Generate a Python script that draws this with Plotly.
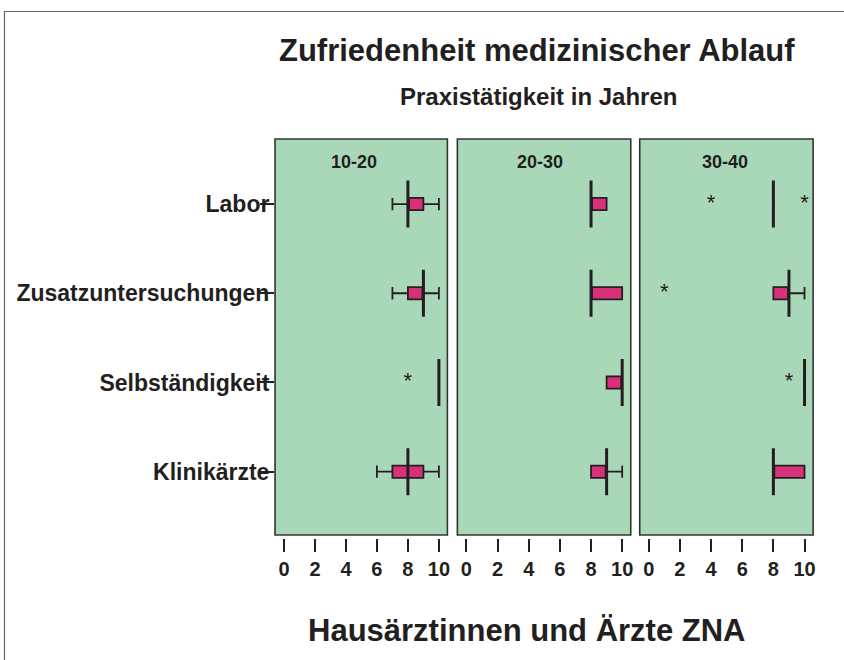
import plotly.graph_objects as go

categories = ["Labor", "Zusatzuntersuchungen", "Selbständigkeit", "Klinikärzte"]
groups = ["10-20", "20-30", "30-40"]
x_ticks = [0, 2, 4, 6, 8, 10]

lower_10_20 = [7, 7, 10, 6]
q1_10_20 = [8, 8, 10, 7]
median_10_20 = [8, 9, 10, 8]
q3_10_20 = [9, 9, 10, 9]
upper_10_20 = [10, 10, 10, 10]

lower_20_30 = [8, 8, 9, 8]
q1_20_30 = [8, 8, 9, 8]
median_20_30 = [8, 8, 10, 9]
q3_20_30 = [9, 10, 10, 9]
upper_20_30 = [9, 10, 10, 10]

lower_30_40 = [8, 8, 10, 8]
q1_30_40 = [8, 8, 10, 8]
median_30_40 = [8, 9, 10, 8]
q3_30_40 = [8, 9, 10, 10]
upper_30_40 = [8, 10, 10, 10]

outlier_10_20_x = [8]
outlier_10_20_cat = ["Selbständigkeit"]
outlier_20_30_x = []
outlier_20_30_cat = []
outlier_30_40_x = [4, 10, 1, 9]
outlier_30_40_cat = ["Labor", "Labor", "Zusatzuntersuchungen", "Selbständigkeit"]

stats = [
    (lower_10_20, q1_10_20, median_10_20, q3_10_20, upper_10_20, outlier_10_20_x, outlier_10_20_cat),
    (lower_20_30, q1_20_30, median_20_30, q3_20_30, upper_20_30, outlier_20_30_x, outlier_20_30_cat),
    (lower_30_40, q1_30_40, median_30_40, q3_30_40, upper_30_40, outlier_30_40_x, outlier_30_40_cat),
]

W, H = 844, 660
FONT = "Liberation Sans, Arial, Helvetica, sans-serif"
DARK = "#231f20"
GREEN = "#a9d8b9"
PINK = "#d8317a"

panel_px = [(276, 449), (459, 633), (642, 816)]
panel_top, panel_bot, axis_bot = 139, 535, 538

pos = {c: i for i, c in enumerate(categories)}
ypos = list(range(len(categories)))
half_med = 0.263
box_w = 0.138

fig = go.Figure()
for k, (lo, q1, med, q3, up, ox, oc) in enumerate(stats):
    xa = "x" if k == 0 else f"x{k+1}"
    ya = "y" if k == 0 else f"y{k+1}"
    fig.add_trace(go.Box(
        y=ypos, q1=q1, median=med, q3=q3, lowerfence=lo, upperfence=up,
        orientation="h", width=box_w, whiskerwidth=1,
        fillcolor=PINK, line=dict(color=DARK, width=1.8),
        boxpoints=False, xaxis=xa, yaxis=ya, showlegend=False, hoverinfo="skip",
    ))
    mx, my = [], []
    for i, m in enumerate(med):
        mx += [m, m, None]
        my += [i - half_med, i + half_med, None]
    fig.add_trace(go.Scatter(
        x=mx, y=my, mode="lines", line=dict(color=DARK, width=3),
        xaxis=xa, yaxis=ya, showlegend=False, hoverinfo="skip",
    ))
    if ox:
        fig.add_trace(go.Scatter(
            x=ox, y=[pos[c] for c in oc], mode="text", text=["*"] * len(ox),
            textposition="middle center",
            textfont=dict(family=FONT, size=22, color=DARK),
            xaxis=xa, yaxis=ya, showlegend=False, hoverinfo="skip",
        ))

ydom = [1 - axis_bot / H, 1 - panel_top / H]
yrange = [3.743, -0.729]
xrange = [-0.58, 10.55]

layout = dict(
    width=W, height=H, autosize=False,
    margin=dict(l=0, r=0, t=0, b=0),
    paper_bgcolor="white", plot_bgcolor="rgba(0,0,0,0)",
    font=dict(family=FONT, color=DARK),
    showlegend=False,
)
for k, (x0, x1) in enumerate(panel_px):
    xn = "xaxis" if k == 0 else f"xaxis{k+1}"
    yn = "yaxis" if k == 0 else f"yaxis{k+1}"
    ya = "y" if k == 0 else f"y{k+1}"
    xa = "x" if k == 0 else f"x{k+1}"
    layout[xn] = dict(
        domain=[x0 / W, x1 / W], anchor=ya, range=xrange,
        tickvals=x_ticks, ticktext=[str(t) for t in x_ticks],
        ticks="outside", ticklen=13, tickwidth=2, tickcolor=DARK,
        tickfont=dict(family=FONT, size=20, color=DARK, weight="bold"),
        showgrid=False, zeroline=False, showline=False, fixedrange=True,
    )
    ydef = dict(
        domain=ydom, anchor=xa, range=yrange,
        tickvals=ypos, showgrid=False, zeroline=False, showline=False,
    )
    if k == 0:
        ydef.update(
            ticktext=categories, ticks="outside", ticklen=14, tickwidth=1.5,
            tickcolor=DARK, ticklabelstandoff=-14,
            tickfont=dict(family=FONT, size=23, color=DARK, weight="bold"),
        )
    else:
        ydef.update(showticklabels=False, ticks="")
    layout[yn] = ydef

fig.update_layout(**layout)

shapes = []
# outer frame
shapes.append(dict(type="rect", xref="paper", yref="paper",
                   x0=4.5 / W, x1=1.1, y0=-0.1, y1=1 - 11.5 / H,
                   line=dict(color="#666666", width=1.2), fillcolor="rgba(0,0,0,0)", layer="below"))
for (x0, x1) in panel_px:
    shapes.append(dict(type="rect", xref="paper", yref="paper",
                       x0=x0 / W, x1=x1 / W, y0=1 - panel_bot / H, y1=1 - panel_top / H,
                       line=dict(color="#333333", width=1.6), fillcolor=GREEN, layer="below"))
fig.update_layout(shapes=shapes)

annotations = [
    dict(text="Zufriedenheit medizinischer Ablauf", x=539 / W, y=1 - 50 / H,
         font=dict(size=31, weight="bold")),
    dict(text="Praxistätigkeit in Jahren", x=540 / W, y=1 - 96 / H,
         font=dict(size=24, weight="bold")),
    dict(text="Hausärztinnen und Ärzte ZNA", x=528 / W, y=1 - 630 / H,
         font=dict(size=31, weight="bold")),
]
label_x = [355, 542, 728]
for g, lx in zip(groups, label_x):
    annotations.append(dict(text=g, x=lx / W, y=1 - 162 / H, font=dict(size=18, weight="bold")))
for a in annotations:
    a.update(xref="paper", yref="paper", showarrow=False, xanchor="center", yanchor="middle")
    a["font"].update(family=FONT, color=DARK)
fig.update_layout(annotations=annotations)

fig.write_html("out.html", config={"displayModeBar": False},
               post_script="document.body.style.margin='0';")
